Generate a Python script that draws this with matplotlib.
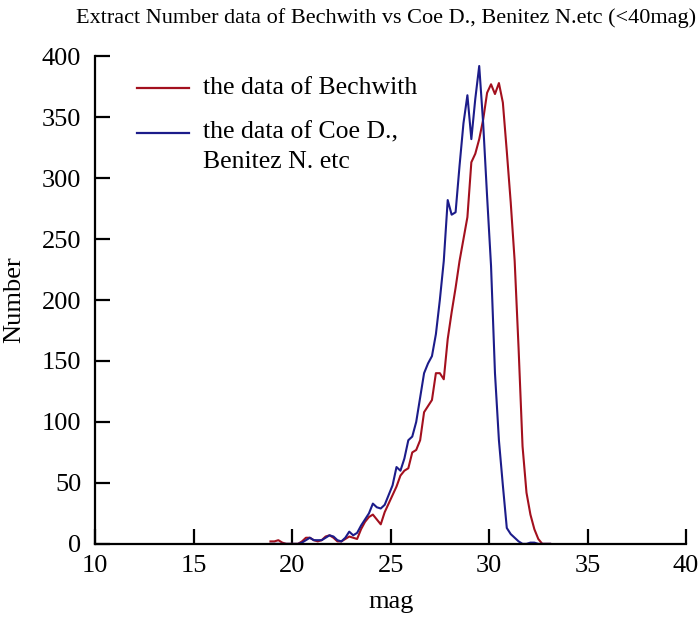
import matplotlib
matplotlib.use("Agg")
import matplotlib.pyplot as plt
from matplotlib.lines import Line2D

plt.rcParams['font.family'] = ['Liberation Serif', 'DejaVu Serif']

# bin centres (mag)
mag = [18.9, 19.1, 19.3, 19.5, 19.7, 19.9, 20.1, 20.3, 20.5, 20.7,
       20.9, 21.1, 21.3, 21.5, 21.7, 21.9, 22.1, 22.3, 22.5, 22.7,
       22.9, 23.1, 23.3, 23.5, 23.7, 23.9, 24.1, 24.3, 24.5, 24.7,
       24.9, 25.1, 25.3, 25.5, 25.7, 25.9, 26.1, 26.3, 26.5, 26.7,
       26.9, 27.1, 27.3, 27.5, 27.7, 27.9, 28.1, 28.3, 28.5, 28.7,
       28.9, 29.1, 29.3, 29.5, 29.7, 29.9, 30.1, 30.3, 30.5, 30.7,
       30.9, 31.1, 31.3, 31.5, 31.7, 31.9, 32.1, 32.3, 32.5, 32.7,
       32.9, 33.1]

# the data of Bechwith
bechwith = [2, 2, 3, 1, 0, 0, 0, 0, 2, 5,
            5, 3, 2, 3, 6, 7, 5, 2, 2, 4,
            6, 5, 4, 12, 18, 22, 24, 20, 16, 26,
            33, 40, 47, 56, 60, 62, 75, 77, 85, 108,
            113, 118, 140, 140, 135, 168, 190, 210, 232, 250,
            268, 313, 320, 332, 348, 370, 377, 369, 378, 362,
            322, 280, 232, 160, 80, 42, 24, 12, 4, 0,
            0, 0]

# the data of Coe D., Benitez N. etc
coe = [0, 0, 0, 0, 0, 0, 0, 0, 1, 3,
       5, 3, 3, 3, 5, 7, 6, 3, 2, 5,
       10, 7, 9, 15, 20, 25, 33, 30, 29, 32,
       40, 48, 63, 60, 70, 85, 88, 100, 120, 140,
       148, 154, 172, 200, 232, 282, 270, 272, 310, 345,
       368, 332, 365, 392, 345, 285, 228, 140, 85, 48,
       13, 8, 5, 2, 0, 0, 1, 1, 0, 0,
       0, 0]

red = '#a3101e'
blue = '#1c1c8a'

fig = plt.figure(figsize=(7.0, 6.18), dpi=100)
ax = fig.add_axes([0.136, 0.120, 0.844, 0.789])

ax.plot(mag, bechwith, color=red, linewidth=1.5, zorder=2)
ax.plot(mag, coe, color=blue, linewidth=1.5, zorder=3)

ax.set_xlim(10, 40)
ax.set_ylim(0, 400)
ax.set_xticks([10, 15, 20, 25, 30, 35, 40])
ax.set_yticks([0, 50, 100, 150, 200, 250, 300, 350, 400])

for s in ['top', 'right']:
    ax.spines[s].set_visible(False)
for s in ['left', 'bottom']:
    ax.spines[s].set_linewidth(1.6)
    ax.spines[s].set_zorder(5)

ax.tick_params(direction='in', length=11, width=1.6, labelsize=19)
ax.tick_params(axis='x', pad=8)
ax.tick_params(axis='y', pad=10)
ax.set_xlabel('mag', fontsize=19, labelpad=10)
ax.set_ylabel('Number', fontsize=19, labelpad=12)
fig.text(0.551, 0.963, 'Extract Number data of Bechwith vs Coe D., Benitez N.etc (<40mag)',
         ha='center', va='baseline', fontsize=16)

# legend drawn by hand so the second handle sits on its first text line
tr = ax.transAxes
ax.add_line(Line2D([0.07, 0.158], [0.935, 0.935], color=red, linewidth=1.6, transform=tr))
ax.add_line(Line2D([0.07, 0.158], [0.843, 0.843], color=blue, linewidth=1.6, transform=tr))
ax.text(0.182, 0.935, 'the data of Bechwith', transform=tr, fontsize=18.5, va='center')
ax.text(0.182, 0.843, 'the data of Coe D.,', transform=tr, fontsize=18.5, va='center')
ax.text(0.182, 0.783, 'Benitez N. etc', transform=tr, fontsize=18.5, va='center')

fig.savefig('out.png', dpi=100)
